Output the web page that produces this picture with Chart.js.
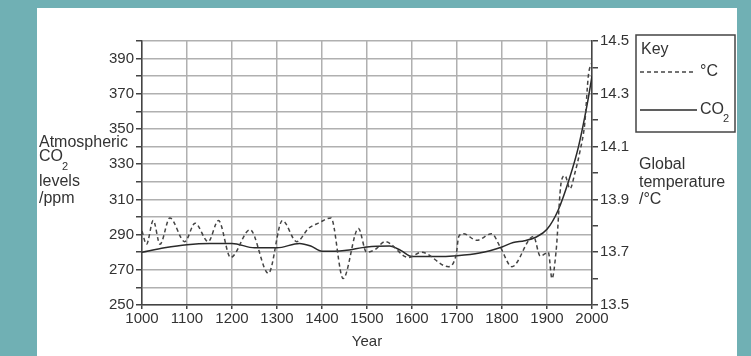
<!DOCTYPE html>
<html>
<head>
<meta charset="utf-8">
<script src="https://cdn.jsdelivr.net/npm/chart.js@4.4.1/dist/chart.umd.min.js"></script>
<style>
html, body { margin: 0; padding: 0; width: 751px; height: 356px; overflow: hidden; background: #70b0b4; }
#panel { position: absolute; left: 37px; top: 8px; width: 700px; height: 348px; background: #fff; }
</style>
</head>
<body>
<div id="panel"><canvas id="chart"></canvas></div>
<script>
// values
const co2Years = [1000, 1050, 1100, 1150, 1200, 1250, 1300, 1350, 1375, 1400, 1450, 1500, 1550, 1575, 1600, 1650, 1700, 1750, 1800, 1825, 1850, 1875, 1900, 1925, 1950, 1970, 1990, 2000];
const co2Values = [280, 282.5, 284.3, 285, 285, 282.5, 282.5, 285, 283.5, 280.5, 281, 283, 283.5, 281, 277.5, 277.5, 278, 279.5, 283, 285.5, 286.5, 288.5, 293, 304, 322, 340, 365, 380];

const tempYears = [1000, 1010, 1025, 1040, 1062, 1095, 1118, 1147, 1170, 1197, 1240, 1281, 1312, 1344, 1370, 1392, 1420, 1447, 1481, 1499, 1518, 1540, 1592, 1621, 1681, 1698, 1704, 1714, 1744, 1777, 1796, 1822, 1870, 1885, 1903, 1911, 1920, 1932, 1940, 1951, 1962, 1973, 1984, 1992, 2000];
const tempValues = [13.78, 13.73, 13.82, 13.73, 13.83, 13.74, 13.81, 13.74, 13.82, 13.68, 13.785, 13.62, 13.82, 13.74, 13.79, 13.81, 13.83, 13.60, 13.79, 13.70, 13.71, 13.74, 13.68, 13.70, 13.645, 13.69, 13.76, 13.77, 13.745, 13.77, 13.72, 13.645, 13.76, 13.685, 13.70, 13.60, 13.70, 13.97, 13.99, 13.94, 14.00, 14.08, 14.19, 14.37, 14.42];

const yearTicks = [1000, 1100, 1200, 1300, 1400, 1500, 1600, 1700, 1800, 1900, 2000];
const co2Ticks = [250, 270, 290, 310, 330, 350, 370, 390];
const tempTicks = [13.5, 13.7, 13.9, 14.1, 14.3, 14.5];

const FONT = "'Liberation Sans', Arial, sans-serif";
const INK = '#333';

// axis titles and the key box
const extras = {
    id: 'extras',
    afterDraw(chart) {
        const ctx = chart.ctx;
        ctx.save();
        ctx.fillStyle = INK;
        ctx.font = '16px ' + FONT;
        ctx.textBaseline = 'middle';
        ctx.textAlign = 'left';

        // left title
        ctx.fillText('Atmospheric', 2, 135);
        ctx.fillText('CO', 2, 149);
        const coW = ctx.measureText('CO').width;
        ctx.font = '11px ' + FONT;
        ctx.fillText('2', 2 + coW - 1, 159);
        ctx.font = '16px ' + FONT;
        ctx.fillText('levels', 2, 174);
        ctx.fillText('/ppm', 2, 191);

        // right title
        ctx.fillText('Global', 602, 157);
        ctx.fillText('temperature', 602, 175);
        ctx.fillText('/°C', 602, 192);

        // key
        ctx.strokeStyle = '#444';
        ctx.lineWidth = 1.5;
        ctx.strokeRect(599, 27, 99, 97);
        ctx.fillText('Key', 604, 42);

        const t = chart.data.datasets[0];
        ctx.strokeStyle = t.borderColor;
        ctx.setLineDash(t.borderDash);
        ctx.beginPath();
        ctx.moveTo(603, 64);
        ctx.lineTo(659, 64);
        ctx.stroke();
        ctx.setLineDash([]);
        ctx.fillText(t.label, 663, 64);

        const c = chart.data.datasets[1];
        ctx.strokeStyle = c.borderColor;
        ctx.beginPath();
        ctx.moveTo(603, 102);
        ctx.lineTo(660, 102);
        ctx.stroke();
        ctx.fillText('CO', 663, 102);
        ctx.font = '11px ' + FONT;
        ctx.fillText('2', 663 + coW - 1, 111);
        ctx.restore();
    }
};

new Chart(document.getElementById('chart'), {
    type: 'line',
    data: {
        datasets: [{
            label: '°C',
            data: tempYears.map((x, i) => ({ x: x, y: tempValues[i] })),
            yAxisID: 'y2',
            borderColor: '#444',
            borderWidth: 1.5,
            borderDash: [4, 3],
            pointRadius: 0,
            cubicInterpolationMode: 'monotone',
            fill: false
        }, {
            label: 'CO2',
            data: co2Years.map((x, i) => ({ x: x, y: co2Values[i] })),
            yAxisID: 'y',
            borderColor: '#2a2a2a',
            borderWidth: 1.5,
            pointRadius: 0,
            cubicInterpolationMode: 'monotone',
            fill: false
        }]
    },
    options: {
        responsive: true,
        maintainAspectRatio: false,
        animation: false,
        layout: { padding: { top: 33, left: 0, right: 0, bottom: 0 } },
        plugins: {
            legend: { display: false },
            tooltip: { enabled: false }
        },
        scales: {
            x: {
                type: 'linear',
                min: 1000,
                max: 2000,
                afterFit: s => { s.height = 51; },
                afterBuildTicks: s => { s.ticks = yearTicks.map(v => ({ value: v })); },
                ticks: {
                    color: INK,
                    font: { family: FONT, size: 15 },
                    padding: 1,
                    maxRotation: 0,
                    autoSkip: false,
                    callback: v => String(v)
                },
                grid: { color: '#b0b0b0', lineWidth: 1.5, tickColor: '#444', tickLength: 4 },
                border: { color: '#444', width: 1.5 },
                title: {
                    display: true,
                    text: 'Year',
                    color: INK,
                    font: { family: FONT, size: 15 },
                    padding: { top: 0, bottom: 5 }
                }
            },
            y: {
                position: 'left',
                min: 250,
                max: 400,
                afterFit: s => { s.width = 105; },
                ticks: {
                    stepSize: 10,
                    autoSkip: false,
                    color: INK,
                    font: { family: FONT, size: 15 },
                    padding: 2,
                    callback: v => co2Ticks.includes(v) ? String(v) : ''
                },
                grid: { color: '#b0b0b0', lineWidth: 1.5, tickColor: '#444', tickLength: 6 },
                border: { color: '#444', width: 1.5 }
            },
            y2: {
                position: 'right',
                min: 13.5,
                max: 14.5,
                afterFit: s => { s.width = 145; },
                ticks: {
                    stepSize: 0.1,
                    autoSkip: false,
                    color: INK,
                    font: { family: FONT, size: 15 },
                    padding: 2,
                    callback: v => {
                        const t = tempTicks.find(k => Math.abs(k - v) < 1e-6);
                        return t !== undefined ? t.toFixed(1) : '';
                    }
                },
                grid: { drawOnChartArea: false, tickColor: '#444', tickLength: 6, lineWidth: 1.5 },
                border: { color: '#444', width: 1.5 }
            }
        }
    },
    plugins: [extras]
});
</script>
</body>
</html>
